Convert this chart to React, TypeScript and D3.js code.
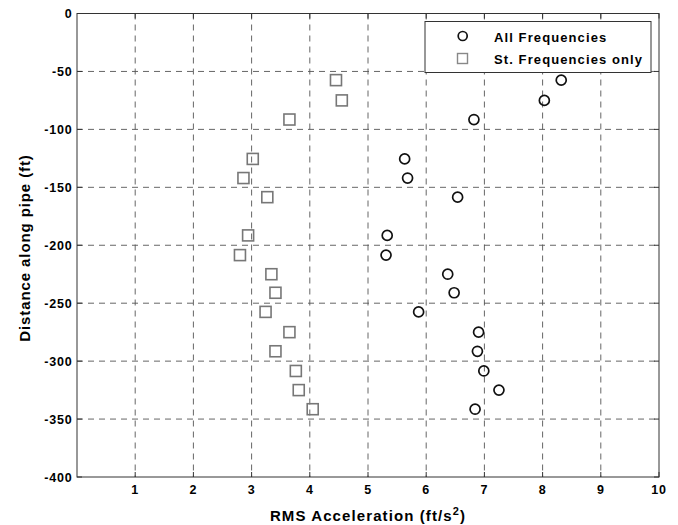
import React from "react";
import * as d3 from "d3";

const depths = [-57.5, -75, -91.5, -125.5, -142, -158.5, -191.5, -208.5, -225, -241, -257.5, -275, -291.5, -308.5, -325, -341.5];
const allFreq = [8.32, 8.03, 6.82, 5.63, 5.68, 6.54, 5.33, 5.31, 6.37, 6.48, 5.87, 6.9, 6.88, 6.99, 7.25, 6.84];
const stFreq = [4.45, 4.55, 3.65, 3.02, 2.86, 3.27, 2.94, 2.8, 3.34, 3.41, 3.24, 3.65, 3.41, 3.76, 3.81, 4.05];
const xTicks = [1, 2, 3, 4, 5, 6, 7, 8, 9, 10];
const yTicks = [0, -50, -100, -150, -200, -250, -300, -350, -400];
const seriesNames = ["All Frequencies", "St. Frequencies only"];

const W = 678, H = 525;
const L = 77, R = 659, T = 13.5, B = 477;
const font = "'Liberation Sans', Arial, Helvetica, sans-serif";

export default function App() {
  const x = d3.scaleLinear().domain([0, 10]).range([L, R]);
  const y = d3.scaleLinear().domain([0, -400]).range([T, B]);
  const gridColor = "#555";
  return (
    <svg width={W} height={H} style={{ position: "absolute", left: 0, top: 0, background: "#fff" }} fontFamily={font}>
      <rect x={0} y={0} width={W} height={H} fill="#fff" />
      {xTicks.filter(t => t < 10).map(t => (
        <line key={"gx" + t} x1={x(t)} x2={x(t)} y1={T} y2={B} stroke={gridColor} strokeWidth={0.9} strokeDasharray="6,5" />
      ))}
      {yTicks.filter(t => t !== 0 && t !== -400).map(t => (
        <line key={"gy" + t} x1={L} x2={R} y1={y(t)} y2={y(t)} stroke={gridColor} strokeWidth={0.9} strokeDasharray="6,5" />
      ))}
      <rect x={L} y={T} width={R - L} height={B - T} fill="none" stroke="#333" strokeWidth={1} />
      {xTicks.map(t => (
        <g key={"tx" + t}>
          <line x1={x(t)} x2={x(t)} y1={B} y2={B - 5} stroke="#333" />
          <line x1={x(t)} x2={x(t)} y1={T} y2={T + 5} stroke="#333" />
          <text x={x(t)} y={494} textAnchor="middle" fontSize={12.5} fontWeight="bold" letterSpacing={0.7}>{t}</text>
        </g>
      ))}
      {yTicks.map(t => (
        <g key={"ty" + t}>
          <line x1={L} x2={L + 5} y1={y(t)} y2={y(t)} stroke="#333" />
          <line x1={R} x2={R - 5} y1={y(t)} y2={y(t)} stroke="#333" />
          <text x={72.5} y={y(t) + 4.5} textAnchor="end" fontSize={12.5} fontWeight="bold" letterSpacing={0.8}>{t}</text>
        </g>
      ))}
      {stFreq.map((v, i) => (
        <rect key={"s" + i} x={x(v) - 5.5} y={y(depths[i]) - 5.5} width={11} height={11} fill="none" stroke="#777" strokeWidth={1.6} />
      ))}
      {allFreq.map((v, i) => (
        <circle key={"c" + i} cx={x(v)} cy={y(depths[i])} r={5} fill="none" stroke="#111" strokeWidth={1.7} />
      ))}
      <rect x={425} y={21.5} width={226} height={51} fill="#fff" stroke="#333" strokeWidth={1} />
      <circle cx={462.7} cy={36} r={4.5} fill="none" stroke="#111" strokeWidth={1.7} />
      <text x={494} y={41.5} fontSize={13} fontWeight="bold" letterSpacing={1.1}>{seriesNames[0]}</text>
      <rect x={457.5} y={53.5} width={10} height={10} fill="none" stroke="#888" strokeWidth={1.4} />
      <text x={494} y={64} fontSize={13} fontWeight="bold" letterSpacing={1.1}>{seriesNames[1]}</text>
      <text x={368} y={521} textAnchor="middle" fontSize={15} fontWeight="bold" letterSpacing={1.1}>
        RMS Acceleration (ft/s<tspan dy={-6} fontSize={11}>2</tspan><tspan dy={6}>)</tspan>
      </text>
      <text transform={`translate(30,248) rotate(-90)`} textAnchor="middle" fontSize={15} fontWeight="bold" letterSpacing={0.9}>
        Distance along pipe (ft)
      </text>
    </svg>
  );
}
